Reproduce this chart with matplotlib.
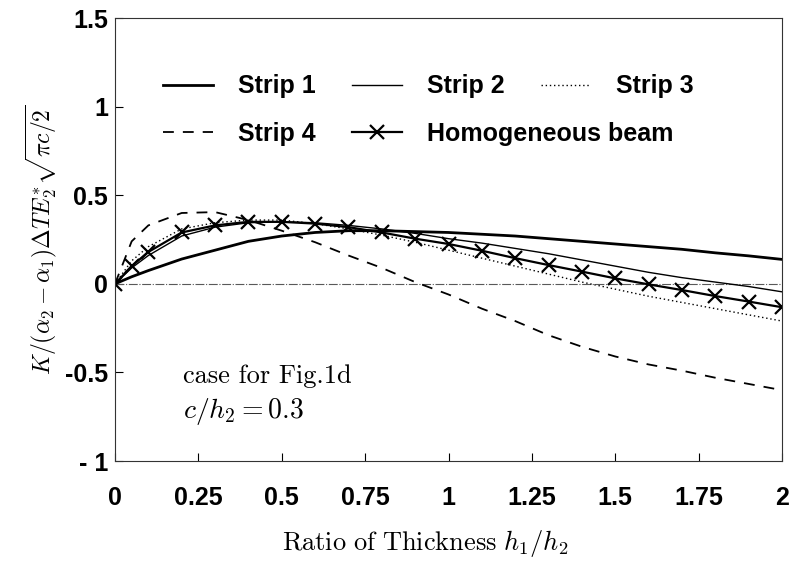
import numpy as np
import matplotlib.pyplot as plt

plt.rcParams['mathtext.fontset'] = 'cm'
plt.rcParams['font.family'] = ['Liberation Sans', 'DejaVu Sans']

# x positions (ratio of thickness h1/h2)
x_vals = [0, 0.05, 0.1, 0.2, 0.3, 0.4, 0.5, 0.6, 0.7, 0.8, 0.9, 1.0,
          1.1, 1.2, 1.3, 1.4, 1.5, 1.6, 1.7, 1.8, 1.9, 2.0]

strip_1 = [0, 0.04, 0.075, 0.14, 0.19, 0.24, 0.27, 0.29, 0.30, 0.30, 0.295, 0.29,
           0.28, 0.27, 0.255, 0.24, 0.225, 0.21, 0.195, 0.175, 0.158, 0.138]
strip_2 = [0, 0.09, 0.16, 0.27, 0.32, 0.345, 0.35, 0.345, 0.33, 0.31, 0.285, 0.255,
           0.23, 0.20, 0.17, 0.135, 0.10, 0.065, 0.035, 0.01, -0.015, -0.045]
strip_3 = [0, 0.13, 0.21, 0.31, 0.345, 0.36, 0.36, 0.34, 0.31, 0.275, 0.235, 0.19,
           0.145, 0.10, 0.055, 0.01, -0.03, -0.07, -0.105, -0.14, -0.175, -0.21]
strip_4 = [0, 0.24, 0.33, 0.40, 0.405, 0.36, 0.30, 0.235, 0.16, 0.09, 0.01, -0.06,
           -0.14, -0.21, -0.29, -0.355, -0.41, -0.455, -0.49, -0.53, -0.565, -0.60]
homog = [0, 0.10, 0.18, 0.29, 0.33, 0.35, 0.35, 0.34, 0.32, 0.29, 0.255, 0.225,
         0.187, 0.145, 0.106, 0.069, 0.031, -0.003, -0.035, -0.069, -0.10, -0.132]

x_ticks = [0, 0.25, 0.5, 0.75, 1, 1.25, 1.5, 1.75, 2]
x_tick_labels = ['0', '0.25', '0.5', '0.75', '1', '1.25', '1.5', '1.75', '2']
y_ticks = [-1, -0.5, 0, 0.5, 1, 1.5]
y_tick_labels = ['- 1', '-0.5', '0', '0.5', '1', '1.5']

fig = plt.figure(figsize=(7.92, 5.66), dpi=100)
ax = fig.add_axes([0.1452, 0.1855, 0.8422, 0.7825])

ax.axhline(0, color='0.35', lw=0.8, linestyle=(0, (8, 1.5, 1, 1.5)))

l1, = ax.plot(x_vals, strip_1, color='black', lw=2.0, label='Strip 1')
l2, = ax.plot(x_vals, strip_2, color='black', lw=1.0, label='Strip 2')
l3, = ax.plot(x_vals, strip_3, color='black', lw=1.0, linestyle=(0, (1, 2)), label='Strip 3')
l4, = ax.plot(x_vals, strip_4, color='black', lw=1.3, linestyle=(0, (6, 5)), label='Strip 4')
l5, = ax.plot(x_vals, homog, color='black', lw=1.6, marker='x', markersize=10,
              markeredgewidth=1.6, label='Homogeneous beam')

ax.set_xlim(0, 2)
ax.set_ylim(-1, 1.5)
ax.set_xticks(x_ticks)
ax.set_xticklabels(x_tick_labels)
ax.set_yticks(y_ticks)
ax.set_yticklabels(y_tick_labels)
ax.tick_params(direction='in', length=6, width=0.8)
ax.tick_params(axis='x', pad=18)
ax.tick_params(axis='y', pad=5)
for lab in ax.get_xticklabels() + ax.get_yticklabels():
    lab.set_fontsize(18)
    lab.set_fontweight('bold')
for sp in ax.spines.values():
    sp.set_linewidth(0.8)
    sp.set_color('0.2')

leg_kw = dict(frameon=False, prop={'size': 18, 'weight': 'bold'}, handlelength=2.0,
              handletextpad=1.0, columnspacing=1.45, borderaxespad=0, borderpad=0,
              loc='upper left')
leg1 = ax.legend([l1, l2, l3], ['Strip 1', 'Strip 2', 'Strip 3'], ncol=3,
                 bbox_to_anchor=(0.072, 0.873), **leg_kw)
ax.add_artist(leg1)
ax.legend([l4, l5], ['Strip 4', 'Homogeneous beam'], ncol=2,
          bbox_to_anchor=(0.072, 0.765), **leg_kw)

ax.text(0.205, -0.52, 'case for Fig.1d', fontsize=19, va='center', family='cmr10')
ax.text(0.205, -0.72, r'$c/h_2 = 0.3$', fontsize=20, va='center')

ax.set_ylabel(r'$K/(\alpha_2-\alpha_1)\Delta T E_2^{*}\sqrt{\pi c/2}$', fontsize=17, labelpad=4)
fig.text(0.537, 0.04, r'$\mathrm{Ratio\ of\ Thickness}\ h_1/h_2$', fontsize=19,
         ha='center', va='center')

fig.savefig('out.png', dpi=100)
